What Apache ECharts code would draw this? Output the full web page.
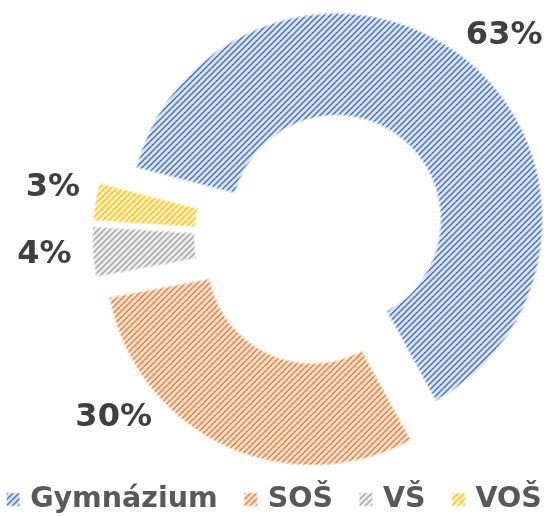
<!DOCTYPE html>
<html><head><meta charset="utf-8">
<script src="https://cdn.jsdelivr.net/npm/echarts@6/dist/echarts.min.js"></script>
<style>html,body{margin:0;padding:0;background:#fff}#c{width:547px;height:516px}</style>
</head><body><div id="c"></div>
<script>
const categories = ['Gymnázium', 'SOŠ', 'VŠ', 'VOŠ'];
const values = [63, 30, 4, 3];
const fgColors = ['#4472C4', '#ED7D31', '#A5A5A5', '#FFC000'];
const bgColors = ['#D9E3F5', '#FBE2D3', '#EDEDED', '#FFF2CC'];
const labelLineLengths = [27, -31, 40, 86];
const labelLineLengths2 = [-14, 85, -19, -70];

function makePattern(fg, bg) {
  const size = 6;
  const cv = document.createElement('canvas');
  cv.width = size; cv.height = size;
  const ctx = cv.getContext('2d');
  ctx.fillStyle = bg; ctx.fillRect(0, 0, size, size);
  ctx.fillStyle = fg;
  for (let x = 0; x < size; x++) for (let y = 0; y < size; y++) {
    if (((x + y) % size) < 2) ctx.fillRect(x, y, 1, 1);
  }
  return cv;
}

const chart = echarts.init(document.getElementById('c'), null, {renderer: 'canvas'});
chart.setOption({
  animation: false,
  backgroundColor: '#ffffff',
  legend: {
    top: 485, left: 'center', padding: 0,
    itemWidth: 14, itemHeight: 14, itemGap: 25, icon: 'rect',
    selectedMode: false,
    textStyle: {fontFamily: 'DejaVu Sans', fontWeight: 'bold', fontSize: 28.5, color: '#595959', padding: [0, 0, 0, 5]},
    data: categories
  },
  series: [{
    type: 'pie',
    center: [322, 238],
    radius: [104, 207],
    startAngle: 165.5,
    clockwise: true,
    selectedMode: 'multiple',
    selectedOffset: 23,
    avoidLabelOverlap: false,
    emphasis: {disabled: true},
    label: {
      show: true, position: 'outside',
      formatter: p => p.value + '%',
      fontFamily: 'DejaVu Sans', fontWeight: 'bold', fontSize: 32, color: '#404040',
      distanceToLabelLine: 0
    },
    labelLine: {show: false},
    itemStyle: {borderColor: 'rgba(255,255,255,0.55)', borderWidth: 3},
    data: categories.map((n, i) => ({
      name: n,
      value: values[i],
      selected: true,
      itemStyle: {color: {image: makePattern(fgColors[i], bgColors[i]), repeat: 'repeat'}},
      labelLine: {show: false, length: labelLineLengths[i], length2: labelLineLengths2[i]}
    }))
  }]
});
</script>
</body></html>
